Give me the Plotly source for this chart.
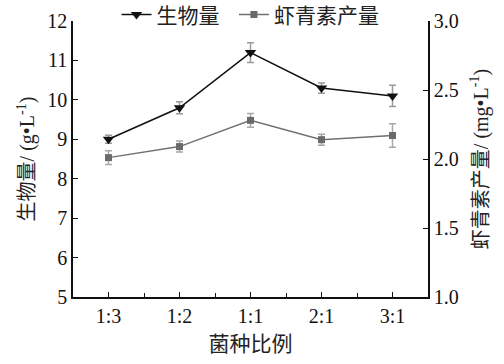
import plotly.graph_objects as go

categories = ["1:3", "1:2", "1:1", "2:1", "3:1"]
biomass = [9.0, 9.8, 11.2, 10.3, 10.1]
biomass_err = [0.1, 0.15, 0.25, 0.13, 0.27]
astax = [2.01, 2.09, 2.28, 2.14, 2.17]
astax_err = [0.05, 0.04, 0.05, 0.04, 0.085]

xpos = list(range(len(categories)))
serif_cjk = "Liberation Serif, Times New Roman, Noto Sans CJK SC"

fig = go.Figure()
fig.add_trace(go.Scatter(
    x=xpos, y=biomass, name="生物量&nbsp;&nbsp;", mode="lines+markers",
    line=dict(color="#111111", width=1.5),
    marker=dict(symbol="triangle-down", size=10, color="#111111"),
    error_y=dict(type="data", array=biomass_err, color="#9a9a9a", thickness=1.5, width=3.5),
    yaxis="y",
))
fig.add_trace(go.Scatter(
    x=xpos, y=astax, name="虾青素产量", mode="lines+markers",
    line=dict(color="#707070", width=1.5),
    marker=dict(symbol="square", size=7, color="#6a6a6a"),
    error_y=dict(type="data", array=astax_err, color="#a8a8a8", thickness=1.5, width=3.5),
    yaxis="y2",
))

tick_font = dict(family=serif_cjk, size=20, color="#111111")
title_font = dict(family=serif_cjk, size=20, color="#222222")
fig.update_layout(
    width=504, height=364,
    margin=dict(l=73, r=76, t=21, b=67, autoexpand=False),
    paper_bgcolor="white", plot_bgcolor="white",
    showlegend=True,
    legend=dict(orientation="h", x=0.5, xanchor="center", y=1.022, yanchor="middle",
                font=dict(family="Noto Sans CJK SC", size=21, color="#222222"),
                bgcolor="rgba(0,0,0,0)", itemwidth=30, tracegroupgap=0),
    xaxis=dict(range=[-0.5, 4.5], tickmode="array", tickvals=xpos, ticktext=categories,
               automargin=False,
               showgrid=False, zeroline=False, showline=True, linecolor="#111111", linewidth=1.5,
               ticks="inside", ticklen=5, tickcolor="#111111", tickfont=tick_font,
               minor=dict(tickmode="array", tickvals=[0.5, 1.5, 2.5, 3.5], ticks="inside", ticklen=4, tickcolor="#111111"),
               title=dict(text="菌种比例", font=dict(family="Noto Sans CJK SC", size=21, color="#222222"), standoff=4)),
    yaxis=dict(range=[5, 12], dtick=1, showgrid=False, zeroline=False, showline=True,
               automargin=False,
               linecolor="#111111", linewidth=1.5, ticks="inside", ticklen=5, tickcolor="#111111",
               tickfont=tick_font,
               title=dict(text="生物量/ (g•L<sup>-1</sup>)", font=title_font, standoff=7)),
    yaxis2=dict(range=[1, 3], dtick=0.5, tickformat=".1f", overlaying="y", side="right",
                automargin=False,
                showgrid=False, zeroline=False, showline=True, linecolor="#111111", linewidth=1.5,
                ticks="inside", ticklen=5, tickcolor="#111111", tickfont=tick_font,
                title=dict(text="虾青素产量/ (mg•L<sup>-1</sup>)", font=title_font, standoff=16)),
)

fig.write_html("out.html", config={"displayModeBar": False},
               post_script="document.body.style.margin='0';document.body.style.padding='0';")
